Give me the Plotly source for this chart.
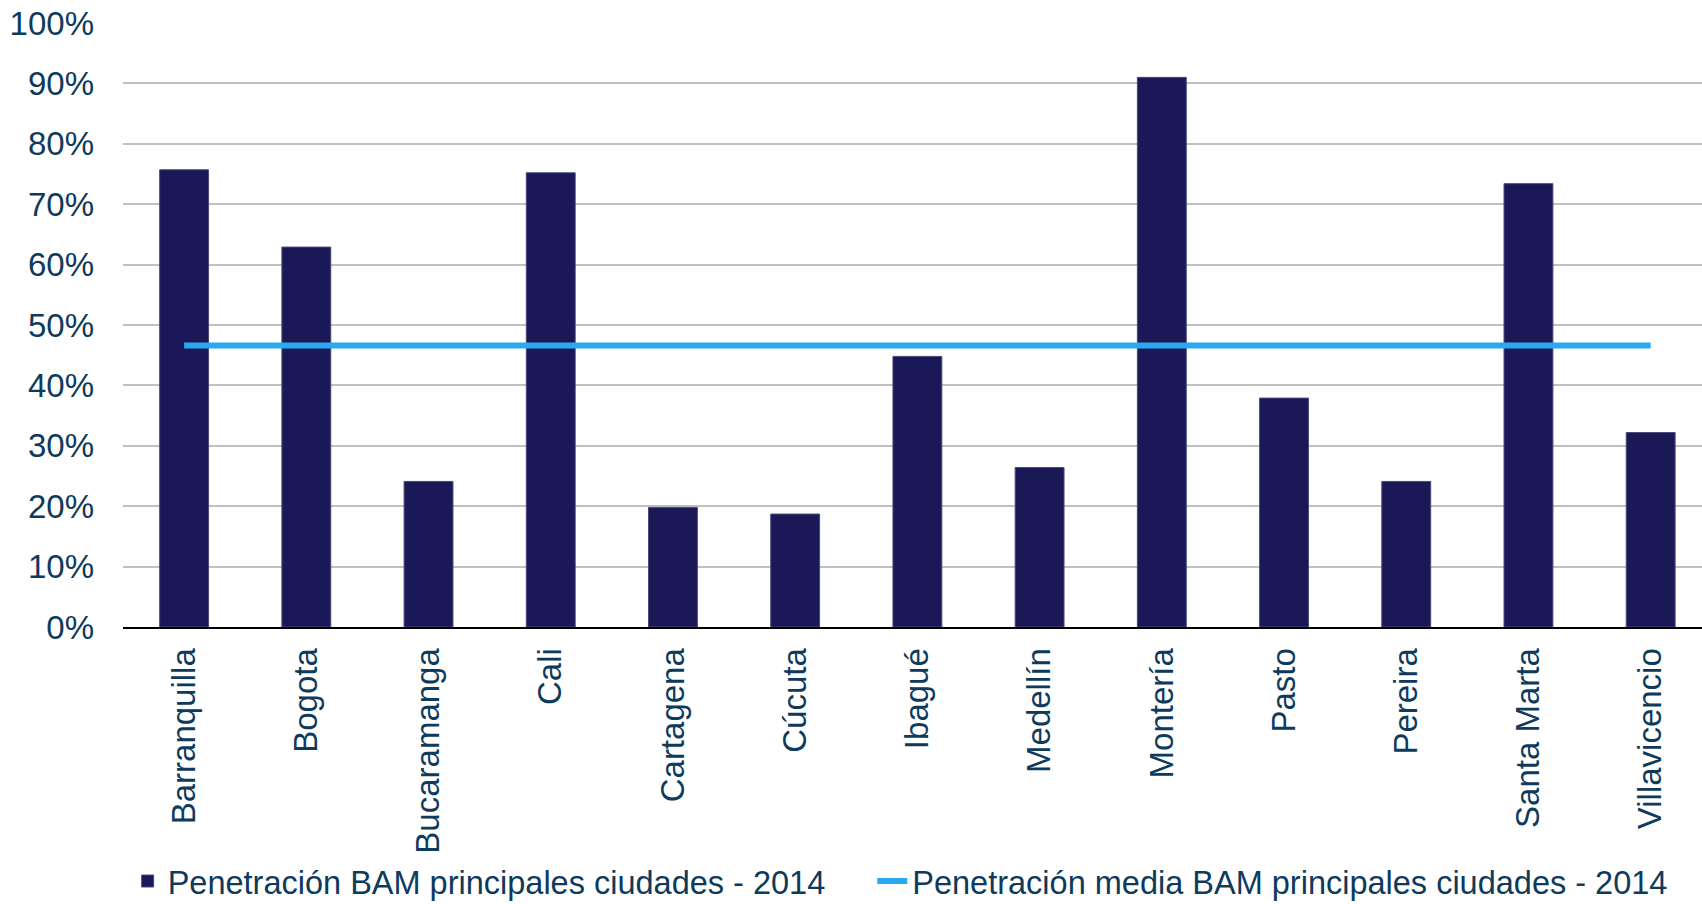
import plotly.graph_objects as go

categories = ["Barranquilla", "Bogota", "Bucaramanga", "Cali", "Cartagena", "Cúcuta",
              "Ibagué", "Medellín", "Montería", "Pasto", "Pereira", "Santa Marta", "Villavicencio"]
penetracion = [0.757, 0.629, 0.241, 0.752, 0.198, 0.187, 0.448, 0.264, 0.910, 0.379, 0.241, 0.734, 0.322]
penetracion_media = [0.466, 0.466, 0.466, 0.466, 0.466, 0.466, 0.466, 0.466, 0.466, 0.466, 0.466, 0.466, 0.466]
y_ticks = [0, 0.1, 0.2, 0.3, 0.4, 0.5, 0.6, 0.7, 0.8, 0.9, 1.0]
y_tick_labels = ["0%", "10%", "20%", "30%", "40%", "50%", "60%", "70%", "80%", "90%", "100%"]

TEXT = "#0E3A5C"
FONT = "Liberation Sans, Arial, sans-serif"

fig = go.Figure()
fig.add_trace(go.Bar(
    x=categories, y=penetracion,
    name="Penetración BAM principales ciudades - 2014",
    marker=dict(color="#1B1857", line=dict(color="#4A4A7A", width=1)),
    width=0.40,
    hoverinfo="skip",
    legend="legend",
))
fig.add_trace(go.Scatter(
    x=categories, y=penetracion_media,
    mode="lines",
    name="Penetración media BAM principales ciudades - 2014",
    line=dict(color="#29A9F2", width=6),
    hoverinfo="skip",
    legend="legend2",
))

legend_common = dict(
    orientation="h",
    xref="container", yref="container",
    xanchor="left", yanchor="middle",
    font=dict(family=FONT, size=32.5, color=TEXT),
    bgcolor="rgba(0,0,0,0)",
    itemwidth=30,
)

fig.update_layout(
    width=1702, height=904,
    margin=dict(l=123, r=0, t=23, b=277, autoexpand=False),
    paper_bgcolor="white", plot_bgcolor="white",
    font=dict(family=FONT, size=33, color=TEXT),
    showlegend=True,
    legend=dict(legend_common, x=0.075, y=0.025),
    legend2=dict(legend_common, x=0.5125, y=0.025),
    xaxis=dict(
        type="category",
        range=[-0.5, 12.42],
        tickangle=-90,
        tickfont=dict(family=FONT, size=33, color=TEXT),
        showgrid=False,
        showline=True, linecolor="#000000", linewidth=2,
        ticks="", ticklen=0,
        ticklabelstandoff=6,
        automargin=False,
    ),
    yaxis=dict(
        range=[0, 1.0],
        tickvals=y_ticks, ticktext=y_tick_labels,
        tickfont=dict(family=FONT, size=33, color=TEXT),
        showgrid=True, gridcolor="#C0C0C0", gridwidth=2,
        zeroline=False,
        showline=False,
        ticks="", ticklabelstandoff=28,
        automargin=False,
    ),
)

fig.write_html(
    "out.html",
    config={"displayModeBar": False},
    post_script="document.body.style.margin='0';document.body.style.overflow='hidden';",
)
